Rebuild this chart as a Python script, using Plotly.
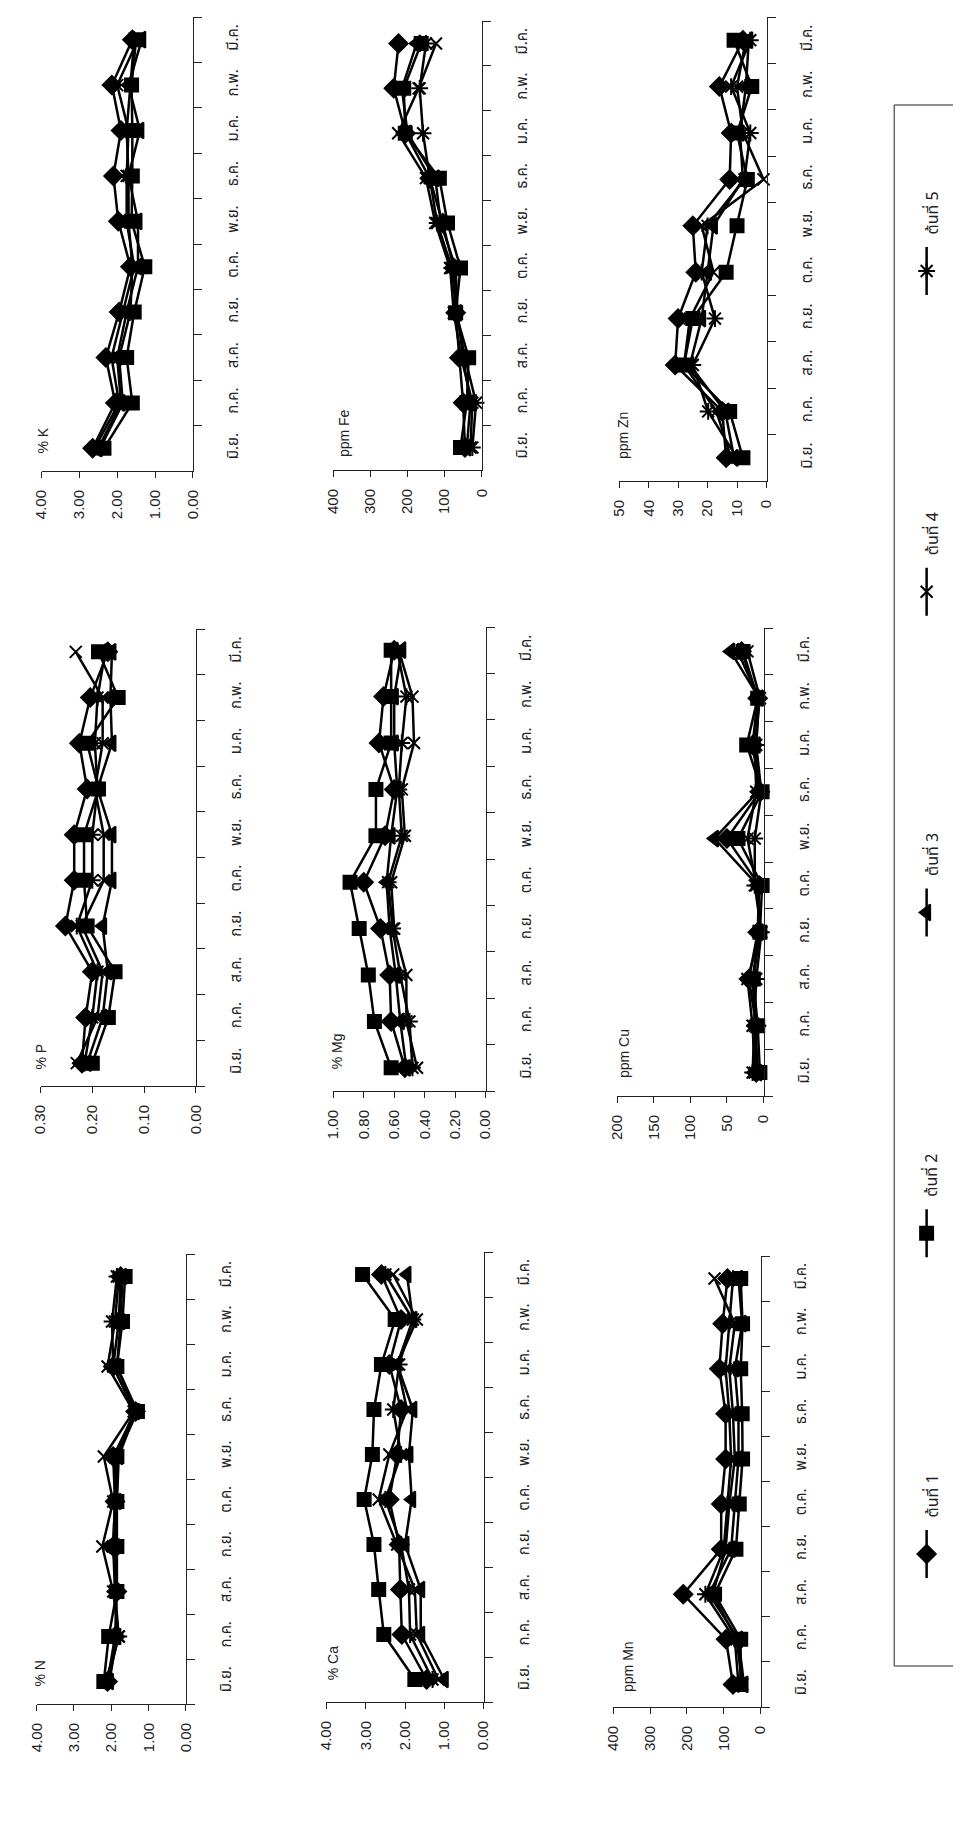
import plotly.graph_objects as go

# ---------------- data ----------------
months = ['มิ.ย.', 'ก.ค.', 'ส.ค.', 'ก.ย.', 'ต.ค.', 'พ.ย.', 'ธ.ค.', 'ม.ค.', 'ก.พ.', 'มี.ค.']
series_names = ['ต้นที่ 1', 'ต้นที่ 2', 'ต้นที่ 3', 'ต้นที่ 4', 'ต้นที่ 5']

K_values = [
    [2.65, 2.05, 2.30, 1.95, 1.65, 1.97, 2.10, 1.90, 2.14, 1.60],
    [2.35, 1.60, 1.75, 1.55, 1.27, 1.62, 1.60, 1.60, 1.62, 1.50],
    [2.50, 1.90, 2.00, 1.75, 1.45, 1.45, 1.70, 1.40, 1.70, 1.35],
    [2.60, 1.95, 2.15, 1.85, 1.55, 1.75, 1.75, 1.70, 2.00, 1.45],
    [2.45, 1.85, 1.95, 1.65, 1.60, 1.70, 1.70, 1.75, 1.65, 1.55],
]
P_values = [
    [0.220, 0.213, 0.200, 0.252, 0.235, 0.235, 0.210, 0.225, 0.204, 0.170],
    [0.200, 0.169, 0.156, 0.210, 0.216, 0.216, 0.188, 0.210, 0.150, 0.188],
    [0.210, 0.180, 0.170, 0.180, 0.162, 0.162, 0.190, 0.162, 0.165, 0.162],
    [0.230, 0.190, 0.180, 0.220, 0.178, 0.178, 0.195, 0.180, 0.180, 0.232],
    [0.215, 0.200, 0.190, 0.230, 0.200, 0.200, 0.190, 0.195, 0.190, 0.175],
]
N_values = [
    [2.10, 1.90, 1.85, 1.95, 1.90, 1.95, 1.35, 1.95, 1.80, 1.75],
    [2.20, 2.07, 1.85, 1.85, 1.85, 1.85, 1.30, 1.85, 1.70, 1.63],
    [2.05, 1.85, 1.90, 1.90, 1.85, 1.80, 1.35, 1.85, 1.75, 1.70],
    [2.10, 1.80, 1.95, 2.24, 1.95, 2.20, 1.40, 2.10, 1.90, 1.80],
    [2.15, 1.80, 1.90, 1.95, 1.90, 1.90, 1.38, 1.95, 1.98, 1.85],
]
Fe_values = [
    [45, 50, 60, 70, 75, 105, 140, 205, 237, 224],
    [57, 40, 35, 70, 57, 92, 114, 206, 210, 163],
    [40, 30, 50, 65, 70, 110, 125, 200, 215, 175],
    [30, 25, 55, 75, 85, 125, 150, 225, 170, 123],
    [25, 15, 45, 68, 80, 120, 140, 158, 167, 150],
]
Mg_values = [
    [0.53, 0.62, 0.63, 0.69, 0.80, 0.66, 0.60, 0.70, 0.67, 0.60],
    [0.62, 0.73, 0.77, 0.83, 0.89, 0.72, 0.72, 0.62, 0.62, 0.62],
    [0.52, 0.56, 0.59, 0.63, 0.65, 0.62, 0.58, 0.60, 0.60, 0.55],
    [0.45, 0.52, 0.52, 0.60, 0.62, 0.53, 0.55, 0.47, 0.48, 0.57],
    [0.48, 0.50, 0.56, 0.61, 0.64, 0.55, 0.57, 0.55, 0.52, 0.58],
]
Ca_values = [
    [1.45, 2.08, 2.12, 2.15, 2.40, 2.20, 2.10, 2.40, 2.10, 2.60],
    [1.75, 2.54, 2.67, 2.79, 3.04, 2.83, 2.79, 2.60, 2.25, 3.08],
    [1.00, 1.60, 1.60, 2.00, 1.83, 1.90, 1.80, 2.20, 1.80, 1.95],
    [1.15, 1.70, 1.75, 2.20, 2.67, 2.40, 1.95, 2.20, 1.70, 2.30],
    [1.30, 1.87, 1.90, 2.10, 2.50, 2.10, 2.30, 2.15, 1.80, 2.50],
]
Zn_values = [
    [13.7, 15.0, 31.0, 30.0, 24.0, 25.0, 12.5, 12.0, 16.0, 8.0],
    [8.0, 12.5, 28.0, 25.0, 13.7, 10.0, 6.5, 10.0, 5.0, 11.0],
    [11.0, 14.0, 26.0, 22.0, 20.0, 18.0, 8.0, 9.0, 7.0, 6.0],
    [12.0, 17.0, 28.0, 26.0, 18.0, 22.0, 1.0, 8.0, 10.0, 7.0],
    [10.0, 19.8, 25.0, 17.5, 22.0, 20.0, 7.5, 5.5, 12.0, 5.5],
]
Cu_values = [
    [10, 10, 20, 8, 6, 50, 5, 15, 8, 30],
    [5, 8, 14, 5, 2, 35, 2, 23, 8, 28],
    [8, 12, 15, 6, 8, 67, 8, 10, 6, 45],
    [12, 15, 22, 4, 10, 22, 10, 12, 5, 22],
    [15, 12, 10, 3, 12, 12, 3, 10, 7, 35],
]
Mn_values = [
    [75, 94, 210, 107, 107, 95, 95, 112, 103, 90],
    [55, 54, 125, 67, 58, 49, 50, 54, 49, 54],
    [45, 60, 140, 80, 70, 60, 60, 70, 50, 60],
    [50, 65, 130, 95, 85, 70, 75, 85, 70, 125],
    [60, 70, 150, 100, 90, 80, 85, 95, 85, 75],
]

# ---------------- layout config (pixel boxes in the 961x1839 page) ----------------
W, H = 961, 1839
panels = [
    # title, values, vmax, step, fmt, (x_left, x_right, y_top, y_bottom), title centre
    ('% K',    K_values,  4.0, 1.0, '{:.2f}', (25, 179, 9, 463),     (26, 433)),
    ('ppm Fe', Fe_values, 400, 100, '{:.0f}', (322, 473, 13, 462),   (333, 425)),
    ('ppm Zn', Zn_values, 50, 10, '{:.0f}',   (613, 763, 9, 473),    (617, 428)),
    ('% P',    P_values,  0.30, 0.10, '{:.2f}', (24, 182, 621, 1078), (24, 1049)),
    ('% Mg',   Mg_values, 1.0, 0.2, '{:.2f}', (322, 477, 619, 1083), (326, 1043)),
    ('ppm Cu', Cu_values, 200, 50, '{:.0f}',  (611, 760, 620, 1088), (618, 1046)),
    ('% N',    N_values,  4.0, 1.0, '{:.2f}', (20, 172, 1246, 1696), (23, 1666)),
    ('% Ca',   Ca_values, 4.0, 1.0, '{:.2f}', (315, 475, 1244, 1694), (322, 1655)),
    ('ppm Mn', Mn_values, 400, 100, '{:.0f}', (607, 757, 1248, 1699), (622, 1658)),
]

symbols = ['diamond', 'square', 'triangle-left', 'x-thin-open', 'asterisk-open']
sizes = [14, 13, 14, 12, 14]

TICK_FONT = dict(family='Liberation Sans, Arial, sans-serif', size=15, color='#222')
THAI_FONT = 'Tlwg Typist, Noto Sans Thai, Loma, Garuda, Norasi, DejaVu Sans, sans-serif'

fig = go.Figure()
layout = dict(
    width=W, height=H, margin=dict(l=0, r=0, t=0, b=0),
    paper_bgcolor='white', plot_bgcolor='rgba(0,0,0,0)', showlegend=False,
    annotations=[], shapes=[],
)

for i, (title, vals, vmax, step, fmt, box, tpos) in enumerate(panels, start=1):
    xl, xr, yt, yb = box
    sx = '' if i == 1 else str(i)
    n = int(round(vmax / step))
    tv = [k * step for k in range(n + 1)]
    layout['xaxis' + sx] = dict(
        domain=[xl / W, xr / W], anchor='y' + sx, range=[vmax, 0],
        tickvals=tv, ticktext=[fmt.format(v) for v in tv],
        tickangle=-90, ticks='outside', ticklen=6, tickcolor='#222',
        showline=True, linecolor='#222', linewidth=1,
        showgrid=False, zeroline=False, tickfont=TICK_FONT,
        ticklabelstandoff=6,
    )
    layout['yaxis' + sx] = dict(
        domain=[1 - yb / H, 1 - yt / H], anchor='x' + sx, side='right',
        type='category', categoryorder='array', categoryarray=months,
        range=[-0.5, len(months) - 0.5], tickson='boundaries',
        ticks='outside', ticklen=8, tickcolor='#222',
        showline=True, linecolor='#222', linewidth=1,
        showgrid=False, zeroline=False, tickangle=-90,
        tickfont=dict(family=THAI_FONT, size=15, color='#222'),
        ticklabelstandoff=26,
    )
    for s, series in enumerate(vals):
        fig.add_trace(go.Scatter(
            x=series, y=months, xaxis='x' + sx, yaxis='y' + sx,
            mode='lines+markers', name=series_names[s],
            line=dict(color='black', width=2.5),
            marker=dict(symbol=symbols[s], size=sizes[s], color='black',
                        line=dict(color='black', width=2)),
            cliponaxis=False,
        ))
    layout['annotations'].append(dict(
        text=title, x=tpos[0] / W, y=1 - tpos[1] / H, xref='paper', yref='paper',
        showarrow=False, textangle=-90, xanchor='center', yanchor='middle',
        font=dict(family='Liberation Sans, Arial, sans-serif', size=14, color='#222'),
    ))

# ---------------- legend (drawn rotated, like the page) ----------------
LB = (893, 958, 97, 1658)
layout['shapes'].append(dict(type='rect', xref='paper', yref='paper',
                             x0=LB[0] / W, x1=LB[1] / W, y0=1 - LB[3] / H, y1=1 - LB[2] / H,
                             line=dict(color='#222', width=1)))
layout['xaxis10'] = dict(domain=[0, 1], range=[0, W], visible=False, anchor='y10')
layout['yaxis10'] = dict(domain=[0, 1], range=[H, 0], visible=False, anchor='x10')
leg_x = 926
leg_first, leg_gap = 1546, -320.75
for s in range(5):
    my = leg_first + leg_gap * s
    fig.add_trace(go.Scatter(
        x=[leg_x, leg_x, leg_x], y=[my + 24, my, my - 24], xaxis='x10', yaxis='y10',
        mode='lines', line=dict(color='black', width=2.5), hoverinfo='skip'))
    fig.add_trace(go.Scatter(
        x=[leg_x], y=[my], xaxis='x10', yaxis='y10', mode='markers',
        marker=dict(symbol=symbols[s], size=sizes[s], color='black',
                    line=dict(color='black', width=2)), hoverinfo='skip'))
    layout['annotations'].append(dict(
        text=series_names[s], x=(leg_x + 6) / W, y=1 - (my - 58) / H,
        xref='paper', yref='paper', showarrow=False, textangle=-90,
        xanchor='center', yanchor='middle',
        font=dict(family=THAI_FONT, size=16, color='#222'),
    ))

fig.update_layout(**layout)
fig.write_html('out.html')
